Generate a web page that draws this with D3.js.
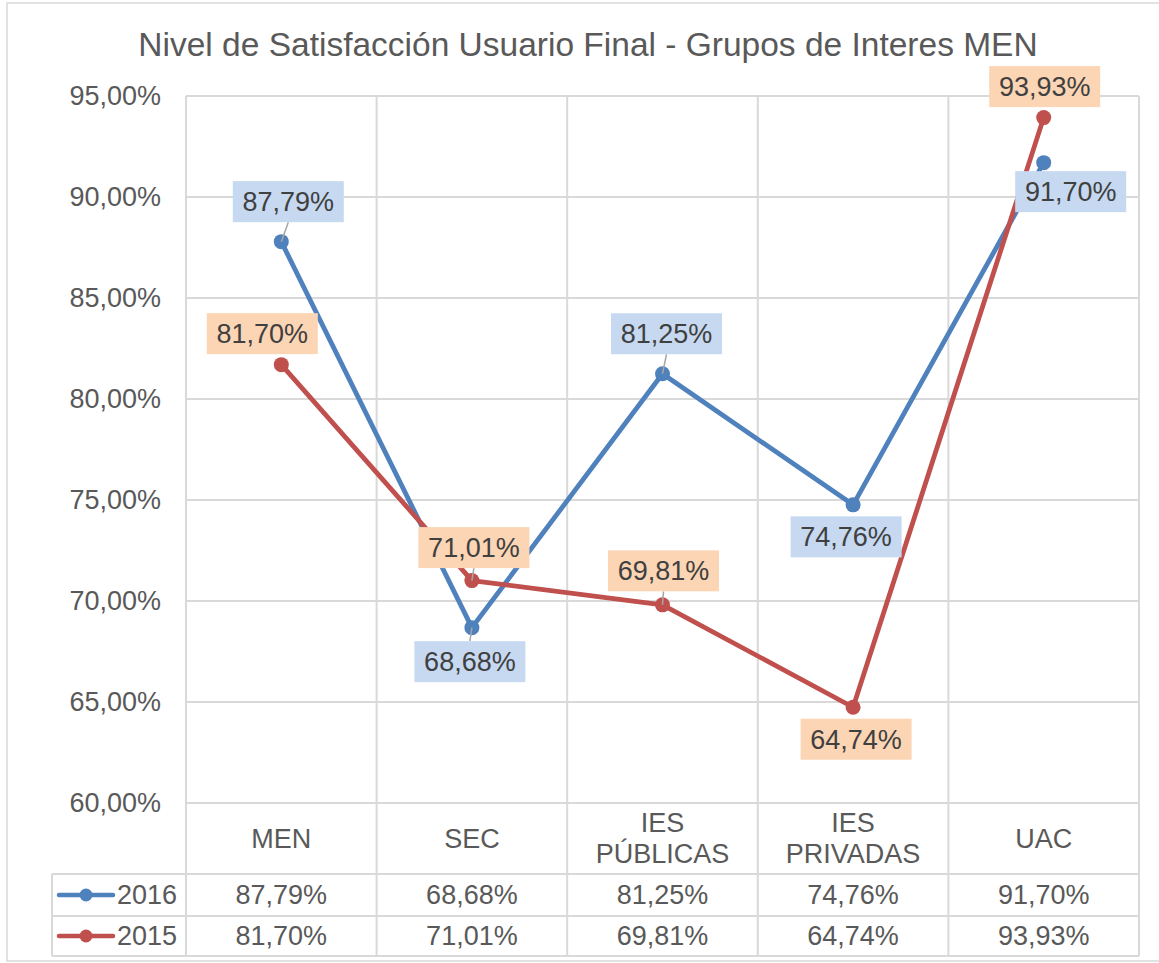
<!DOCTYPE html>
<html lang="es">
<head>
  <meta charset="UTF-8">
  <title>Nivel de Satisfacción Usuario Final</title>
  <script src="https://d3js.org/d3.v7.min.js"></script>
  <style>
    body { margin: 0; background: #fff; }
    svg { display: block; font-family: "Liberation Sans", Arial, sans-serif; }
    .grid line { stroke: #d9d9d9; stroke-width: 2px; }
    .axis-label { fill: #595959; font-size: 27px; }
    .data-label { fill: #404040; font-size: 27px; }
    .leader { stroke: #a6a6a6; stroke-width: 1.5px; }
  </style>
</head>
<body>
<div id="chart"></div>
<script>
  // data
  const categories = [["MEN"], ["SEC"], ["IES", "PÚBLICAS"], ["IES", "PRIVADAS"], ["UAC"]];
  const values2016 = [87.79, 68.68, 81.25, 74.76, 91.70];
  const values2015 = [81.70, 71.01, 69.81, 64.74, 93.93];
  const yTicks = [60, 65, 70, 75, 80, 85, 90, 95];
  const title = "Nivel de Satisfacción Usuario Final - Grupos de Interes MEN";

  const series = [
    { name: "2016", values: values2016, color: "#4f81bd", fill: "#c6d9f1" },
    { name: "2015", values: values2015, color: "#c0504d", fill: "#fcd5b4" }
  ];

  // where each data label sits relative to its point (dx, dy)
  const labelOffsets = {
    "2016": [[7, -40], [-2, 34], [4, -40], [-7, 32], [27, 29]],
    "2015": [[-19, -31], [2, -33], [1, -34], [3, 32], [1, -31]]
  };

  const width = 1159, height = 963;
  const plot = { left: 186, right: 1139, top: 96, bottom: 803 };
  const tableLeft = 52, catRowBottom = 874, rowH = [874, 916, 956];

  const fmt = v => d3.format(".2f")(v).replace(".", ",") + "%";

  const svg = d3.select("#chart").append("svg")
    .attr("width", width)
    .attr("height", height);

  // outer chart frame
  svg.append("rect")
    .attr("x", 7).attr("y", 3)
    .attr("width", width + 10).attr("height", height - 5)
    .attr("fill", "none").attr("stroke", "#d9d9d9").attr("stroke-width", 1.5);

  svg.append("text")
    .attr("x", 588).attr("y", 56)
    .attr("text-anchor", "middle")
    .attr("fill", "#595959")
    .style("font-size", "33.5px")
    .text(title);

  const x = d3.scaleBand()
    .domain(d3.range(categories.length))
    .range([plot.left, plot.right]);

  const y = d3.scaleLinear()
    .domain([60, 95])
    .range([plot.bottom, plot.top]);

  // gridlines
  const grid = svg.append("g").attr("class", "grid");
  grid.selectAll(".h")
    .data(yTicks)
    .enter().append("line")
    .attr("x1", plot.left).attr("x2", plot.right)
    .attr("y1", d => y(d)).attr("y2", d => y(d));

  const vEdges = d3.range(categories.length).map(i => x(i)).concat([plot.right]);
  grid.selectAll(".v")
    .data(vEdges)
    .enter().append("line")
    .attr("x1", d => d).attr("x2", d => d)
    .attr("y1", plot.top).attr("y2", rowH[2]);

  // table horizontal lines
  grid.selectAll(".t")
    .data(rowH)
    .enter().append("line")
    .attr("x1", tableLeft).attr("x2", plot.right)
    .attr("y1", d => d).attr("y2", d => d);
  grid.append("line")
    .attr("x1", tableLeft).attr("x2", tableLeft)
    .attr("y1", rowH[0]).attr("y2", rowH[2]);

  // y axis labels
  svg.append("g").selectAll("text")
    .data(yTicks)
    .enter().append("text")
    .attr("class", "axis-label")
    .attr("x", 161)
    .attr("y", d => y(d))
    .attr("dy", "0.35em")
    .attr("text-anchor", "end")
    .text(d => fmt(d));

  // category labels
  const cat = svg.append("g").selectAll("text")
    .data(categories)
    .enter().append("text")
    .attr("class", "axis-label")
    .attr("text-anchor", "middle")
    .attr("x", (d, i) => x(i) + x.bandwidth() / 2)
    .attr("y", d => (plot.bottom + catRowBottom) / 2 - (d.length - 1) * 15.5)
    .attr("dy", "0.35em");
  cat.selectAll("tspan")
    .data(d => d)
    .enter().append("tspan")
    .attr("x", function () { return d3.select(this.parentNode).attr("x"); })
    .attr("dy", (d, i) => i === 0 ? "0.35em" : "31")
    .text(d => d);

  // table rows
  series.forEach((s, si) => {
    const cy = (rowH[si] + rowH[si + 1]) / 2;
    const row = svg.append("g");
    row.append("line")
      .attr("x1", 59).attr("x2", 113)
      .attr("y1", cy).attr("y2", cy)
      .attr("stroke", s.color).attr("stroke-width", 4.5).attr("stroke-linecap", "round");
    row.append("circle")
      .attr("cx", 86).attr("cy", cy).attr("r", 6.5)
      .attr("fill", s.color);
    row.append("text")
      .attr("class", "axis-label")
      .attr("x", 117).attr("y", cy).attr("dy", "0.35em")
      .text(s.name);
    row.selectAll(".val")
      .data(s.values)
      .enter().append("text")
      .attr("class", "axis-label")
      .attr("text-anchor", "middle")
      .attr("x", (d, i) => x(i) + x.bandwidth() / 2)
      .attr("y", cy).attr("dy", "0.35em")
      .text(d => fmt(d));
  });

  // lines and markers
  const line = d3.line()
    .x((d, i) => x(i) + x.bandwidth() / 2)
    .y(d => y(d));

  // draw 2016 first, 2015 on top
  series.forEach(s => {
    svg.append("path")
      .datum(s.values)
      .attr("fill", "none")
      .attr("stroke", s.color)
      .attr("stroke-width", 4.8)
      .attr("stroke-linejoin", "round")
      .attr("d", line);
    svg.append("g").selectAll("circle")
      .data(s.values)
      .enter().append("circle")
      .attr("cx", (d, i) => x(i) + x.bandwidth() / 2)
      .attr("cy", d => y(d))
      .attr("r", 7.5)
      .attr("fill", s.color);
  });

  // data labels
  const boxW = 111, boxH = 41;
  series.forEach(s => {
    s.values.forEach((v, i) => {
      const px = x(i) + x.bandwidth() / 2, py = y(v);
      const [dx, dy] = labelOffsets[s.name][i];
      const cx = px + dx, cy = py + dy;
      const g = svg.append("g");
      const edgeY = dy < 0 ? cy + boxH / 2 : cy - boxH / 2;
      if (Math.abs(edgeY - py) > 12) {
        g.append("line")
          .attr("class", "leader")
          .attr("x1", cx).attr("y1", edgeY)
          .attr("x2", px).attr("y2", py);
      }
      g.append("rect")
        .attr("x", cx - boxW / 2).attr("y", cy - boxH / 2)
        .attr("width", boxW).attr("height", boxH)
        .attr("fill", s.fill);
      g.append("text")
        .attr("class", "data-label")
        .attr("x", cx).attr("y", cy).attr("dy", "0.35em")
        .attr("text-anchor", "middle")
        .text(fmt(v));
    });
  });
</script>
</body>
</html>
